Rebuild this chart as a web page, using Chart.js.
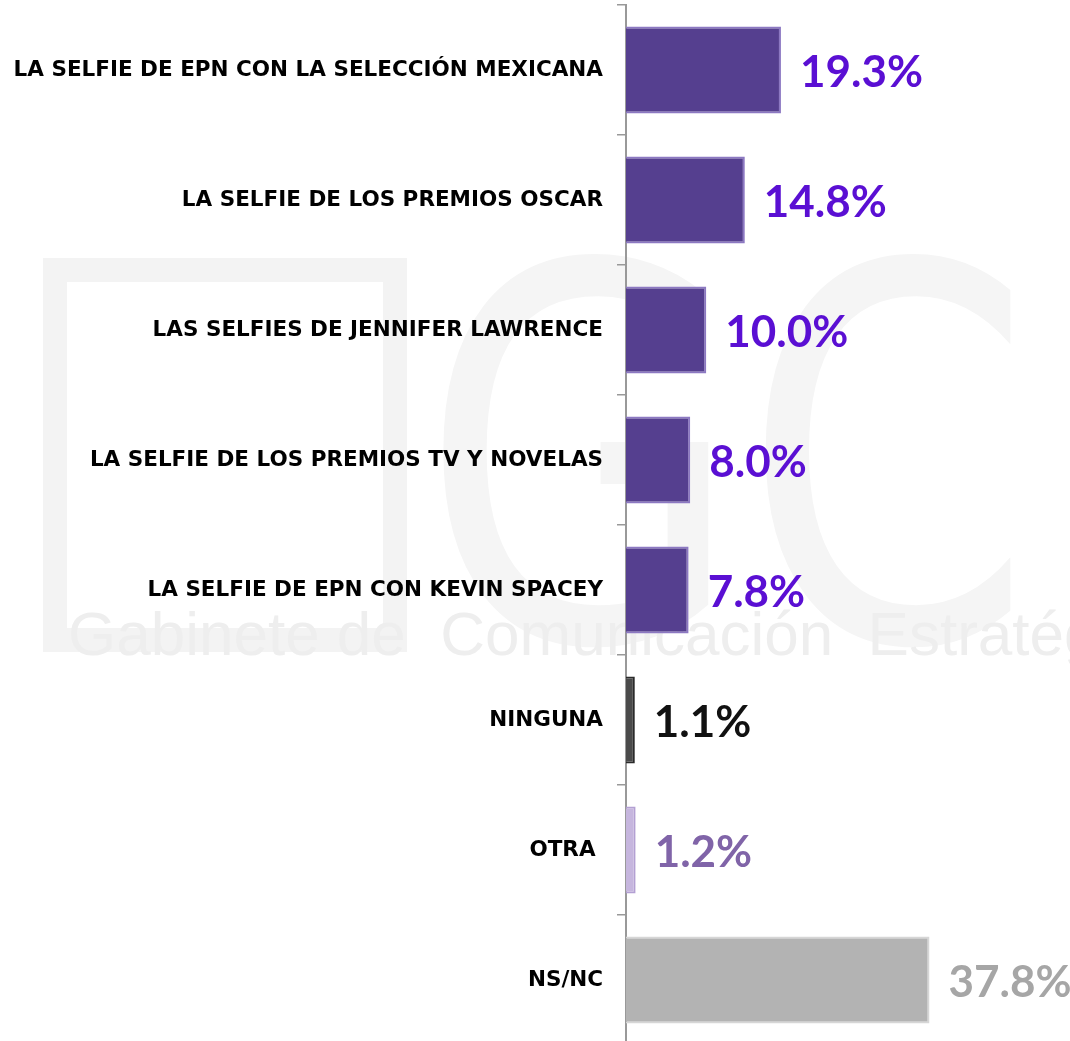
<!DOCTYPE html>
<html>
<head>
<meta charset="utf-8">
<script src="https://cdn.jsdelivr.net/npm/chart.js@4.4.1/dist/chart.umd.min.js"></script>
<style>
html,body{margin:0;padding:0;background:#fff;overflow:hidden;}
canvas{display:block;}
</style>
</head>
<body>
<canvas id="c" width="1070" height="1050"></canvas>
<script>
const categories = [
  "LA SELFIE DE EPN CON LA SELECCIÓN MEXICANA",
  "LA SELFIE DE LOS PREMIOS OSCAR",
  "LAS SELFIES DE JENNIFER LAWRENCE",
  "LA SELFIE DE LOS PREMIOS TV Y NOVELAS",
  "LA SELFIE DE EPN CON KEVIN SPACEY",
  "NINGUNA",
  "OTRA ",
  "NS/NC"
];
const values = [19.3, 14.8, 10.0, 8.0, 7.8, 1.1, 1.2, 37.8];
const valueLabels = ["19.3%", "14.8%", "10.0%", "8.0%", "7.8%", "1.1%", "1.2%", "37.8%"];
const barColors = ["#553f8f","#553f8f","#553f8f","#553f8f","#553f8f","#4a4a4a","#c6b6de","#b3b3b3"];
const borderColors = ["#8c78c2","#8c78c2","#8c78c2","#8c78c2","#8c78c2","#2a2a2a","#b3a0d3","#d6d6d6"];
const labelColors = ["#5a0fd3","#5a0fd3","#5a0fd3","#5a0fd3","#5a0fd3","#111111","#8064a8","#a6a6a6"];

const watermark = {
  id: 'watermark',
  beforeDraw(chart) {
    const ctx = chart.ctx;
    ctx.save();
    ctx.textBaseline = 'alphabetic';
    ctx.save();
    ctx.translate(420, 640);
    ctx.scale(0.8, 1);
    ctx.fillStyle = '#f5f5f5';
    ctx.font = '520px "DejaVu Sans"';
    ctx.fillText('GC', 0, 0);
    ctx.restore();
    ctx.strokeStyle = '#f3f3f3';
    ctx.lineWidth = 24;
    ctx.strokeRect(55, 270, 340, 370);
    ctx.fillStyle = '#eeeeee';
    ctx.font = '62px "Liberation Sans"';
    ctx.fillText('Gabinete de  Comunicación  Estratégica', 68, 655);
    ctx.restore();
  }
};

const valuePlugin = {
  id: 'valuePlugin',
  afterDatasetsDraw(chart) {
    const ctx = chart.ctx;
    const meta = chart.getDatasetMeta(0);
    ctx.save();
    ctx.font = 'bold 44px Lato';
    ctx.textBaseline = 'middle';
    ctx.textAlign = 'left';
    meta.data.forEach((bar, i) => {
      ctx.fillStyle = labelColors[i];
      ctx.fillText(valueLabels[i], bar.x + 19, bar.y + 3);
    });
    ctx.restore();
  }
};

new Chart(document.getElementById('c'), {
  type: 'bar',
  data: {
    labels: categories,
    datasets: [{
      data: values,
      backgroundColor: barColors,
      borderColor: borderColors,
      borderWidth: 2,
      borderSkipped: 'left',
      barPercentage: 0.67,
      categoryPercentage: 1.0
    }]
  },
  options: {
    indexAxis: 'y',
    responsive: false,
    animation: false,
    layout: { autoPadding: false, padding: { top: 5, bottom: 5, left: 0, right: 0 } },
    plugins: { legend: { display: false }, tooltip: { enabled: false }, title: { display: false } },
    scales: {
      x: {
        display: false,
        min: 0,
        max: 55.3
      },
      y: {
        afterFit(scale) {
          scale.width = 626;
          scale.paddingTop = 0;
          scale.paddingBottom = 0;
        },
        grid: {
          display: true,
          drawOnChartArea: false,
          offset: true,
          tickLength: 9,
          color: '#999999',
          lineWidth: 1.5
        },
        border: { display: true, color: '#999999', width: 2 },
        ticks: {
          color: '#000',
          padding: 14,
          font: { family: 'DejaVu Sans', weight: 'bold', size: 21.5 }
        }
      }
    }
  },
  plugins: [watermark, valuePlugin]
});
</script>
</body>
</html>
